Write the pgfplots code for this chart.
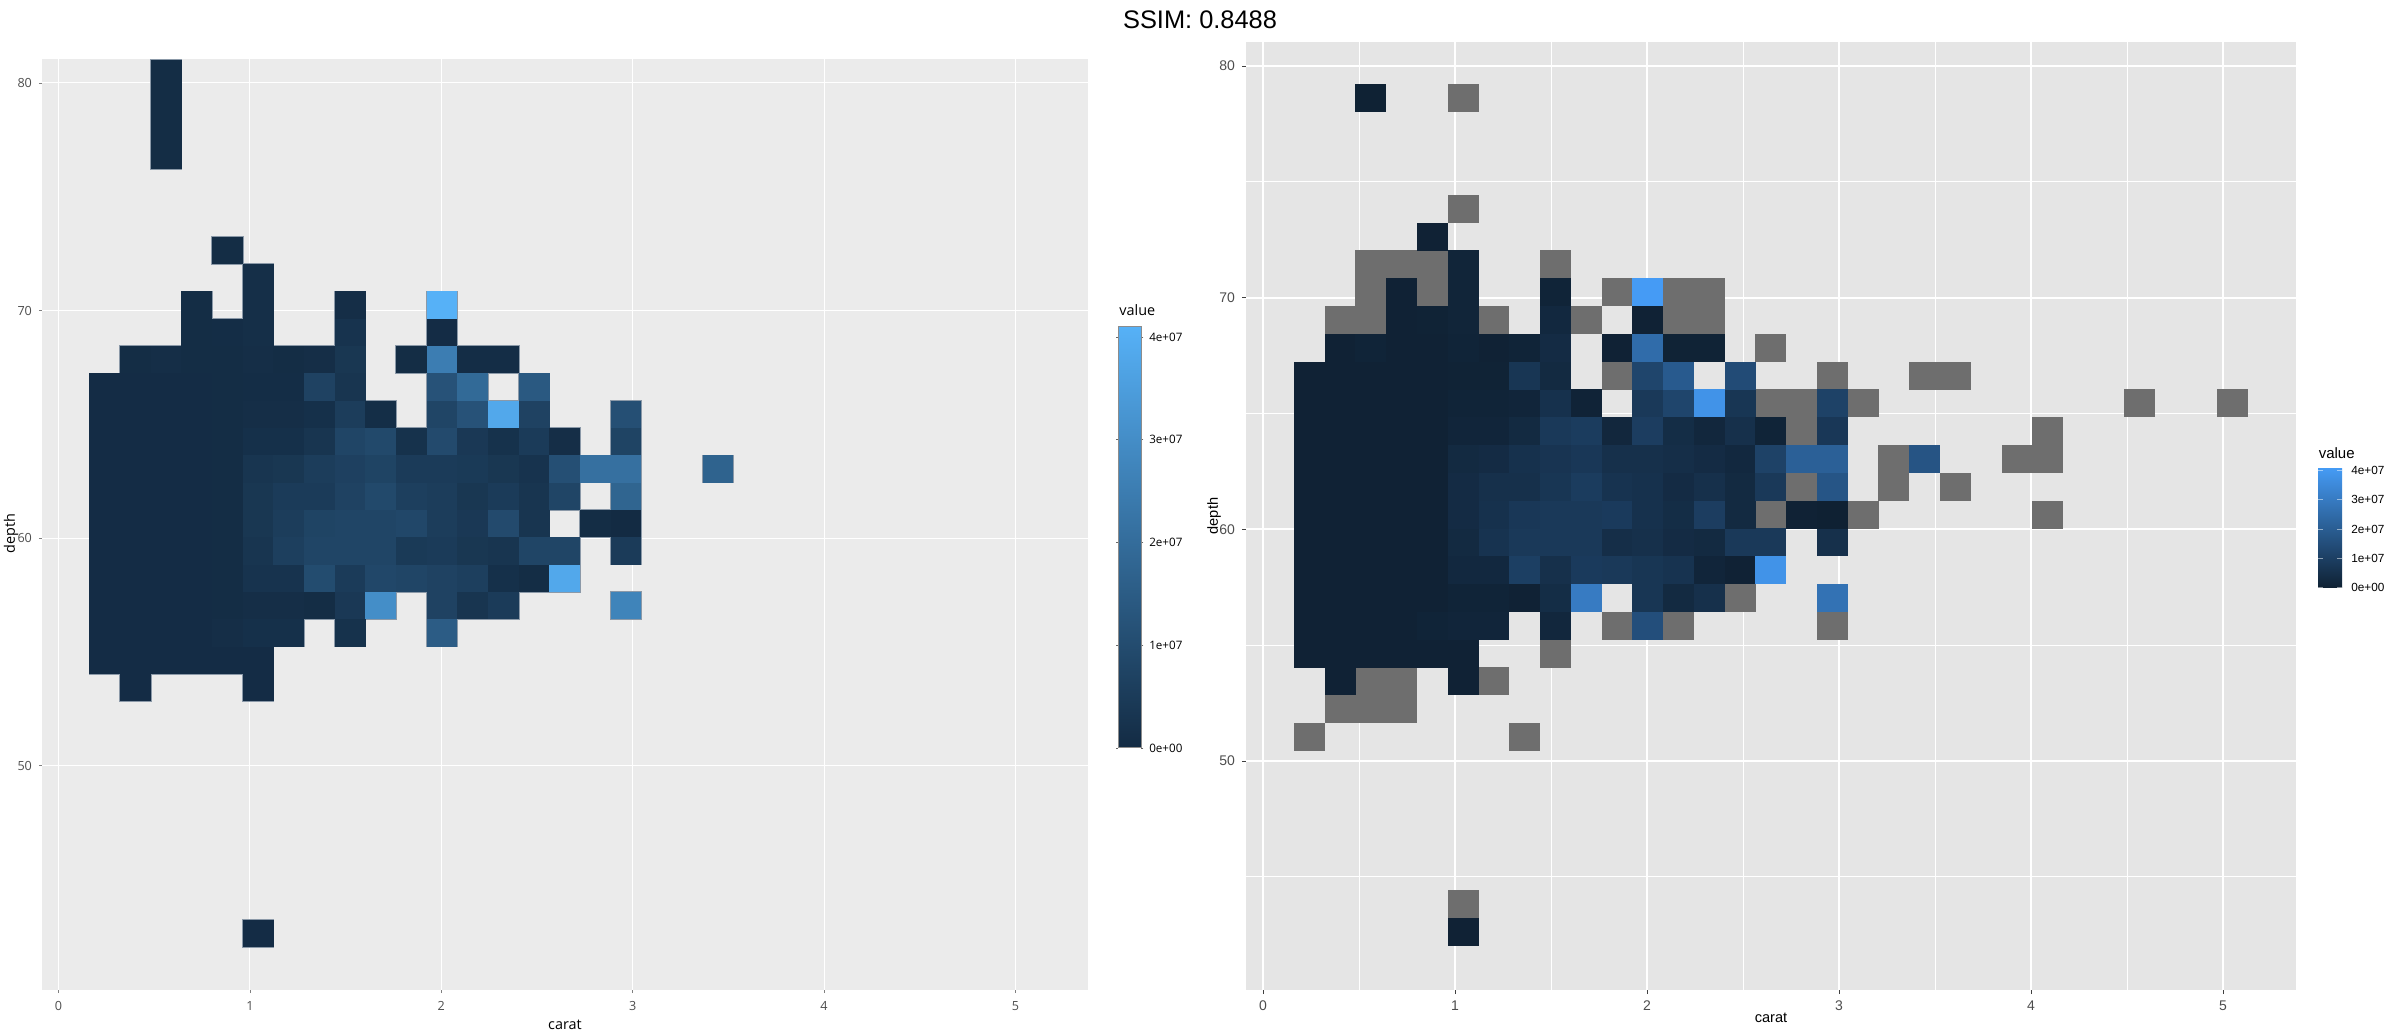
\documentclass[border=0pt]{standalone}
\usepackage{pgfplots}
\usepackage{pgfplotstable}
\usepackage{fontspec}
\pgfplotsset{compat=1.18}
\setmainfont{Liberation Sans}
\newfontfamily\opensans{Open Sans}

\definecolor{panelL}{HTML}{EBEBEB}
\definecolor{panelR}{HTML}{E5E5E5}
\definecolor{naGrey}{HTML}{6E6E6E}
\definecolor{tickTxt}{HTML}{4D4D4D}
\definecolor{edgeL}{HTML}{8B99A8}

% cells, size fixed by the axis scale (1 px = 0.5 pt)
\pgfdeclareplotmark{cellL}{\pgfpathrectangle{\pgfpoint{-7.72pt}{-6.88pt}}{\pgfpoint{15.44pt}{13.76pt}}\pgfusepathqfill}
\pgfdeclareplotmark{edgeL}{\pgfpathrectangle{\pgfpoint{-8.05pt}{-7.2pt}}{\pgfpoint{16.1pt}{14.4pt}}\pgfusepathqfill}
\pgfdeclareplotmark{cellR}{\pgfpathrectangle{\pgfpoint{-7.74pt}{-7pt}}{\pgfpoint{15.48pt}{14pt}}\pgfusepathqfill}

% carat, depth, value (in 1e6)
\pgfplotstableread[row sep=\\]{
x y v\\
1.043 42.64 0.4\\
0.402 53.44 0.4\\ 1.043 53.44 0.4\\
0.242 54.64 0.4\\ 0.402 54.64 0.4\\ 0.562 54.64 0.4\\ 0.723 54.64 0.4\\ 0.883 54.64 0.4\\ 1.043 54.64 0.4\\
0.242 55.84 0.4\\ 0.402 55.84 0.4\\ 0.562 55.84 0.4\\ 0.723 55.84 0.4\\ 0.883 55.84 1\\ 1.043 55.84 1.5\\ 1.203 55.84 1.5\\ 1.524 55.84 2\\ 2.004 55.84 15\\
0.242 57.04 0.4\\ 0.402 57.04 0.4\\ 0.562 57.04 0.4\\ 0.723 57.04 0.4\\ 0.883 57.04 0.5\\ 1.043 57.04 1\\ 1.203 57.04 1\\ 1.363 57.04 0.5\\ 1.524 57.04 4\\ 1.684 57.04 30\\ 2.004 57.04 7\\ 2.164 57.04 3\\ 2.325 57.04 5\\ 2.965 57.04 27\\
0.242 58.24 0.4\\ 0.402 58.24 0.4\\ 0.562 58.24 0.4\\ 0.723 58.24 0.4\\ 0.883 58.24 0.5\\ 1.043 58.24 2.5\\ 1.203 58.24 2.5\\ 1.363 58.24 10\\ 1.524 58.24 5\\ 1.684 58.24 8.5\\ 1.844 58.24 8\\ 2.004 58.24 7\\ 2.164 58.24 6\\ 2.325 58.24 1.5\\ 2.485 58.24 0.5\\ 2.645 58.24 38\\
0.242 59.44 0.4\\ 0.402 59.44 0.4\\ 0.562 59.44 0.4\\ 0.723 59.44 0.4\\ 0.883 59.44 0.5\\ 1.043 59.44 3\\ 1.203 59.44 6\\ 1.363 59.44 8\\ 1.524 59.44 8\\ 1.684 59.44 8\\ 1.844 59.44 4.5\\ 2.004 59.44 5\\ 2.164 59.44 3.5\\ 2.325 59.44 3\\ 2.485 59.44 8\\ 2.645 59.44 8\\ 2.965 59.44 5\\
0.242 60.64 0.4\\ 0.402 60.64 0.4\\ 0.562 60.64 0.4\\ 0.723 60.64 0.4\\ 0.883 60.64 0.5\\ 1.043 60.64 3.5\\ 1.203 60.64 5.5\\ 1.363 60.64 7.5\\ 1.524 60.64 8\\ 1.684 60.64 8\\ 1.844 60.64 8.5\\ 2.004 60.64 5.5\\ 2.164 60.64 4\\ 2.325 60.64 9.5\\ 2.485 60.64 3\\ 2.805 60.64 0.5\\ 2.965 60.64 0\\
0.242 61.84 0.4\\ 0.402 61.84 0.4\\ 0.562 61.84 0.4\\ 0.723 61.84 0.4\\ 0.883 61.84 0.5\\ 1.043 61.84 3.5\\ 1.203 61.84 5\\ 1.363 61.84 5\\ 1.524 61.84 7\\ 1.684 61.84 9\\ 1.844 61.84 6\\ 2.004 61.84 5.5\\ 2.164 61.84 3.5\\ 2.325 61.84 5\\ 2.485 61.84 3\\ 2.645 61.84 8\\ 2.965 61.84 17.5\\
0.242 63.04 0.4\\ 0.402 63.04 0.4\\ 0.562 63.04 0.4\\ 0.723 63.04 0.4\\ 0.883 63.04 0.5\\ 1.043 63.04 3\\ 1.203 63.04 3.5\\ 1.363 63.04 5.5\\ 1.524 63.04 6.5\\ 1.684 63.04 7.5\\ 1.844 63.04 5\\ 2.004 63.04 5\\ 2.164 63.04 4.5\\ 2.325 63.04 3.5\\ 2.485 63.04 2.5\\ 2.645 63.04 11\\ 2.805 63.04 21\\ 2.965 63.04 21\\ 3.446 63.04 17\\
0.242 64.24 0.4\\ 0.402 64.24 0.4\\ 0.562 64.24 0.4\\ 0.723 64.24 0.4\\ 0.883 64.24 0.5\\ 1.043 64.24 1.5\\ 1.203 64.24 1.5\\ 1.363 64.24 3\\ 1.524 64.24 8\\ 1.684 64.24 9\\ 1.844 64.24 2\\ 2.004 64.24 9.5\\ 2.164 64.24 4\\ 2.325 64.24 2\\ 2.485 64.24 5\\ 2.645 64.24 1\\ 2.965 64.24 7.5\\
0.242 65.44 0.4\\ 0.402 65.44 0.4\\ 0.562 65.44 0.4\\ 0.723 65.44 0.4\\ 0.883 65.44 0.5\\ 1.043 65.44 1\\ 1.203 65.44 1\\ 1.363 65.44 1.5\\ 1.524 65.44 5.5\\ 1.684 65.44 0.8\\ 2.004 65.44 8\\ 2.164 65.44 12\\ 2.325 65.44 38\\ 2.485 65.44 7\\ 2.965 65.44 11\\
0.242 66.64 0.4\\ 0.402 66.64 0.4\\ 0.562 66.64 0.4\\ 0.723 66.64 0.4\\ 0.883 66.64 0.5\\ 1.043 66.64 0.6\\ 1.203 66.64 0.6\\ 1.363 66.64 7\\ 1.524 66.64 3\\ 2.004 66.64 12\\ 2.164 66.64 19\\ 2.485 66.64 14\\
0.402 67.84 0.5\\ 0.562 67.84 1\\ 0.723 67.84 0.5\\ 0.883 67.84 0.5\\ 1.043 67.84 1\\ 1.203 67.84 0.5\\ 1.363 67.84 1\\ 1.524 67.84 3.5\\ 1.844 67.84 0.5\\ 2.004 67.84 25\\ 2.164 67.84 0.6\\ 2.325 67.84 0.6\\
0.723 69.04 0.5\\ 0.883 69.04 0.6\\ 1.043 69.04 1.2\\ 1.524 69.04 2.5\\ 2.004 69.04 0.4\\
0.723 70.24 0.5\\ 1.043 70.24 1.2\\ 1.524 70.24 1\\ 2.004 70.24 41\\
1.043 71.44 1.2\\
0.883 72.64 0.5\\
}\cellsBoth

% only in the left panel: the tall stack at the top
\pgfplotstableread[row sep=\\]{
x y v\\
0.562 76.8 0.5\\ 0.562 78 0.5\\ 0.562 79.2 0.5\\ 0.562 80.4 0.5\\
}\cellsLeft

% only in the right panel
\pgfplotstableread[row sep=\\]{
x y v\\
0.562 78.64 0.3\\
}\cellsRight

% NA cells of the right panel
\pgfplotstableread[row sep=\\]{
x y\\
0.242 51.04\\ 1.363 51.04\\
0.402 52.24\\ 0.562 52.24\\ 0.723 52.24\\
0.562 53.44\\ 0.723 53.44\\ 1.203 53.44\\
1.043 43.84\\
1.524 54.64\\
1.844 55.84\\ 2.164 55.84\\ 2.965 55.84\\
2.485 57.04\\
2.645 60.64\\ 3.126 60.64\\ 4.087 60.64\\
2.805 61.84\\ 3.286 61.84\\ 3.606 61.84\\
3.286 63.04\\ 3.927 63.04\\ 4.087 63.04\\
2.805 64.24\\ 4.087 64.24\\
2.645 65.44\\ 2.805 65.44\\ 3.126 65.44\\ 4.567 65.44\\ 5.048 65.44\\
1.844 66.64\\ 2.965 66.64\\ 3.446 66.64\\ 3.606 66.64\\
2.645 67.84\\
0.402 69.04\\ 0.562 69.04\\ 1.203 69.04\\ 1.684 69.04\\ 2.164 69.04\\ 2.325 69.04\\
0.562 70.24\\ 0.883 70.24\\ 1.844 70.24\\ 2.164 70.24\\ 2.325 70.24\\
0.562 71.44\\ 0.723 71.44\\ 0.883 71.44\\ 1.524 71.44\\
1.043 73.84\\
1.043 78.64\\
}\cellsNA

\pgfplotsset{
  colormap={ggL}{rgb255=(19,43,67) rgb255=(86,177,247)},
  colormap={ggR}{rgb255=(15,33,51) rgb255=(69,155,245)},
}

\begin{document}
\begin{tikzpicture}
\path[use as bounding box] (0,0) rectangle (1200pt,517pt);

\node[font=\fontsize{12.7}{15}\selectfont,anchor=center] at (600pt,507pt) {SSIM: 0.8488};

% left panel
\begin{axis}[
  at={(21pt,22pt)}, anchor=south west, scale only axis,
  width=523pt, height=465.5pt,
  xmin=-0.0862, xmax=5.379, ymin=40.15, ymax=81.05,
  axis background/.style={fill=panelL},
  axis line style={draw=none},
  xtick={0,1,2,3,4,5}, ytick={50,60,70,80},
  xtick pos=bottom, ytick pos=left,
  tick align=outside, major tick length=1.5pt,
  tick style={draw=black!50,line width=0.35pt},
  grid=major, major grid style={draw=white,line width=0.5pt},
  /pgf/number format/assume math mode=true,
  tick label style={font=\opensans\fontsize{6.3}{7}\selectfont,text=tickTxt},
  xticklabel style={yshift=-0.8pt},
  xlabel={\opensans carat}, ylabel={\opensans depth},
  label style={font=\fontsize{7.2}{9}\selectfont},
  xlabel style={at={(axis description cs:0.5,-0.0376)},anchor=center},
  ylabel style={at={(axis description cs:-0.0296,0.49)},anchor=center},
  colormap name=ggL,
  point meta min=0, point meta max=41,
  colorbar,
  colorbar style={
    at={(parent axis.south east)}, anchor=south west,
    xshift=6.7pt, yshift=121pt,
    width=11.5pt, height=210.65pt,
    ytick={0,10,20,30,40},
    yticklabels={0e+00,1e+07,2e+07,3e+07,4e+07},
    yticklabel pos=right,
    tick align=outside, major tick length=1pt,
    tick style={draw=black!60,line width=0.3pt},
    axis line style={draw=black!45,line width=0.5pt},
    yticklabel style={font=\opensans\fontsize{5.8}{7}\selectfont,text=black,xshift=-0.6pt},
  },
]
\addplot[only marks,mark=edgeL,mark options={fill=edgeL,draw=none}] table[x=x,y=y] {\cellsBoth};
\addplot[only marks,mark=edgeL,mark options={fill=edgeL,draw=none}] table[x=x,y=y] {\cellsLeft};
\addplot[scatter,only marks,mark=cellL,scatter/use mapped color={draw=none,fill=mapped color},point meta=explicit] table[x=x,y=y,meta=v] {\cellsBoth};
\addplot[scatter,only marks,mark=cellL,scatter/use mapped color={draw=none,fill=mapped color},point meta=explicit] table[x=x,y=y,meta=v] {\cellsLeft};
\end{axis}
\node[font=\opensans\fontsize{7.2}{9}\selectfont,anchor=west,inner sep=0pt] at (559.5pt,362pt) {value};

% right panel
\begin{axis}[
  at={(623pt,22pt)}, anchor=south west, scale only axis,
  width=525pt, height=474pt,
  xmin=-0.0885, xmax=5.380, ymin=40.12, ymax=81.04,
  axis background/.style={fill=panelR},
  axis line style={draw=none},
  xtick={0,1,2,3,4,5}, ytick={50,60,70,80},
  minor xtick={0.5,1.5,2.5,3.5,4.5},
  minor ytick={45,55,65,75},
  xtick pos=bottom, ytick pos=left,
  tick align=outside, major tick length=2pt, minor tick length=0pt,
  tick style={draw=black!75,line width=0.5pt},
  grid=both,
  major grid style={draw=white,line width=1pt},
  minor grid style={draw=white,line width=0.5pt},
  /pgf/number format/assume math mode=true,
  tick label style={font=\fontsize{7}{8}\selectfont,text=tickTxt},
  xlabel={carat}, ylabel={depth},
  label style={font=\fontsize{7.3}{9}\selectfont},
  xlabel style={at={(axis description cs:0.5,-0.0295)},anchor=center},
  ylabel style={at={(axis description cs:-0.0305,0.5)},anchor=center},
  colormap name=ggR,
  point meta min=0, point meta max=40.95,
  colorbar,
  colorbar style={
    at={(parent axis.south east)}, anchor=south west,
    xshift=2.55pt, yshift=201.15pt,
    width=12pt, height=60pt,
    ytick={0,10,20,30,40},
    yticklabels={0e+00,1e+07,2e+07,3e+07,4e+07},
    yticklabel pos=right,
    ytick pos=both,
    tick align=inside, major tick length=2.4pt,
    tick style={draw=white,opacity=0.5,line width=0.4pt},
    axis line style={draw=none},
    yticklabel style={font=\fontsize{5.9}{7}\selectfont,text=black,xshift=1pt},
  },
]
\addplot[only marks,mark=cellR,mark options={fill=naGrey,draw=none}] table[x=x,y=y] {\cellsNA};
\addplot[scatter,only marks,mark=cellR,scatter/use mapped color={draw=none,fill=mapped color},point meta=explicit] table[x=x,y=y,meta=v] {\cellsBoth};
\addplot[scatter,only marks,mark=cellR,scatter/use mapped color={draw=none,fill=mapped color},point meta=explicit] table[x=x,y=y,meta=v] {\cellsRight};
\end{axis}
\node[font=\fontsize{7.5}{9}\selectfont,anchor=west,inner sep=0pt] at (1159.2pt,290.5pt) {value};
\end{tikzpicture}
\end{document}
